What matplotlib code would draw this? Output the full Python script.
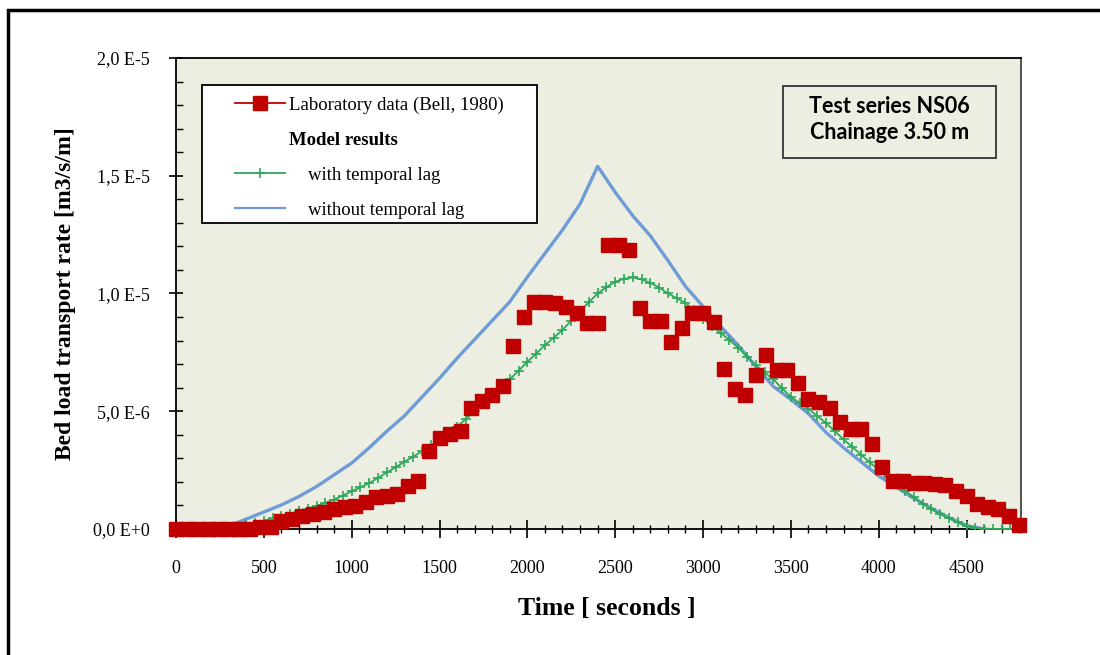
import matplotlib
matplotlib.use("Agg")
import matplotlib.pyplot as plt
from matplotlib.lines import Line2D
from matplotlib.patches import Rectangle
from matplotlib.ticker import FixedLocator, MultipleLocator

# laboratory data (Bell, 1980), bed load in 1e-6 m3/s/m
lab_time = [0, 60, 120, 180, 240, 300, 360, 420, 480, 540, 600, 660, 720, 780, 840, 900,
            960, 1020, 1080, 1140, 1200, 1260, 1320, 1380, 1440, 1500, 1560, 1620, 1680,
            1740, 1800, 1860, 1920, 1980, 2040, 2100, 2160, 2220, 2280, 2340, 2400, 2460,
            2520, 2580, 2640, 2700, 2760, 2820, 2880, 2940, 3000, 3060, 3120, 3180, 3240,
            3300, 3360, 3420, 3480, 3540, 3600, 3660, 3720, 3780, 3840, 3900, 3960, 4020,
            4080, 4140, 4200, 4260, 4320, 4380, 4440, 4500, 4560, 4620, 4680, 4740, 4800]
lab_rate = [0, 0, 0, 0, 0, 0, 0, 0, 0.08, 0.1, 0.35, 0.42, 0.56, 0.63, 0.7, 0.85,
            0.92, 0.99, 1.13, 1.34, 1.41, 1.48, 1.83, 2.04, 3.31, 3.88, 4.02, 4.16, 5.15,
            5.43, 5.71, 6.06, 7.75, 9.02, 9.65, 9.65, 9.58, 9.44, 9.16, 8.74, 8.74, 12.05,
            12.05, 11.84, 9.37, 8.81, 8.81, 7.94, 8.53, 9.16, 9.16, 8.77, 6.8, 5.95, 5.71,
            6.55, 7.37, 6.77, 6.77, 6.2, 5.5, 5.38, 5.15, 4.55, 4.26, 4.26, 3.59, 2.65,
            2.04, 2.04, 1.97, 1.94, 1.9, 1.86, 1.62, 1.41, 1.06, 0.92, 0.85, 0.54, 0.17]

# model with temporal lag
lag_time = [0, 50, 100, 150, 200, 250, 300, 350, 400, 450, 500, 550, 600, 650, 700, 750,
            800, 850, 900, 950, 1000, 1050, 1100, 1150, 1200, 1250, 1300, 1350, 1400, 1450,
            1500, 1550, 1600, 1650, 1700, 1750, 1800, 1850, 1900, 1950, 2000, 2050, 2100,
            2150, 2200, 2250, 2300, 2350, 2400, 2450, 2500, 2550, 2600, 2650, 2700, 2750,
            2800, 2850, 2900, 2950, 3000, 3050, 3100, 3150, 3200, 3250, 3300, 3350, 3400,
            3450, 3500, 3550, 3600, 3650, 3700, 3750, 3800, 3850, 3900, 3950, 4000, 4050,
            4100, 4150, 4200, 4250, 4300, 4350, 4400, 4450, 4500, 4550, 4600, 4650, 4700,
            4750, 4800]
lag_rate = [0, 0, 0, 0, 0, 0, 0.02, 0.08, 0.15, 0.25, 0.35, 0.45, 0.55, 0.65, 0.75, 0.86,
            0.98, 1.11, 1.25, 1.42, 1.6, 1.77, 1.95, 2.17, 2.4, 2.62, 2.85, 3.07, 3.3, 3.55,
            3.8, 4.07, 4.35, 4.67, 5.0, 5.32, 5.65, 6.0, 6.35, 6.72, 7.1, 7.45, 7.8,
            8.12, 8.45, 8.85, 9.25, 9.63, 10.0, 10.27, 10.5, 10.62, 10.68, 10.6, 10.45, 10.25,
            10.0, 9.8, 9.6, 9.28, 8.92, 8.62, 8.33, 8.02, 7.7, 7.32, 6.95, 6.65, 6.35,
            5.98, 5.6, 5.35, 5.1, 4.8, 4.5, 4.15, 3.8, 3.48, 3.15, 2.83, 2.5, 2.2,
            1.9, 1.62, 1.35, 1.08, 0.83, 0.63, 0.45, 0.28, 0.13, 0.06, 0.02, 0, 0,
            0, 0]

# model without temporal lag
nolag_time = [0, 100, 200, 300, 400, 500, 600, 700, 800, 900, 1000, 1100, 1200, 1300,
              1400, 1500, 1600, 1700, 1800, 1900, 2000, 2100, 2200, 2300, 2400, 2500, 2600,
              2700, 2800, 2900, 3000, 3100, 3200, 3300, 3400, 3500, 3600, 3700, 3800, 3900,
              4000, 4100, 4200, 4300, 4400, 4500, 4600]
nolag_rate = [0, 0, 0, 0.12, 0.42, 0.72, 1.02, 1.38, 1.8, 2.3, 2.8, 3.45, 4.15, 4.8,
              5.6, 6.4, 7.25, 8.05, 8.85, 9.65, 10.7, 11.7, 12.7, 13.8, 15.4, 14.3, 13.3,
              12.45, 11.4, 10.3, 9.45, 8.6, 7.8, 6.9, 6.05, 5.5, 4.9, 4.1, 3.45, 2.85,
              2.25, 1.78, 1.3, 0.88, 0.48, 0.14, 0]

y_ticks = [0, 5e-6, 1e-5, 1.5e-5, 2e-5]
y_ticklabels = ["0,0 E+0", "5,0 E-6", "1,0 E-5", "1,5 E-5", "2,0 E-5"]
x_ticks = [0, 500, 1000, 1500, 2000, 2500, 3000, 3500, 4000, 4500]

legend_labels = ["Laboratory data (Bell, 1980)", "Model results",
                 "    with temporal lag", "    without temporal lag"]

red = '#C00000'
green = '#2EA85A'
blue = '#6F9BD6'
serif = 'Liberation Serif'

fig = plt.figure(figsize=(11, 6.55), dpi=100)
ax = fig.add_axes([0.16, 0.1924, 0.7682, 0.7191])
ax.set_facecolor('#ECEEE1')

ax.plot(nolag_time, [v * 1e-6 for v in nolag_rate], color=blue, lw=2.4, zorder=3)
ax.plot(lag_time, [v * 1e-6 for v in lag_rate], color=green, lw=1.3, marker='+',
        markersize=7, markeredgewidth=1.2, zorder=4)
ax.plot(lab_time, [v * 1e-6 for v in lab_rate], color=red, ls='none', marker='s',
        markersize=9.5, zorder=5, clip_on=False)

ax.set_xlim(0, 4810)
ax.set_ylim(0, 2e-5)
ax.yaxis.set_major_locator(FixedLocator(y_ticks))
ax.set_yticklabels(y_ticklabels)
ax.yaxis.set_minor_locator(MultipleLocator(1e-6))
ax.xaxis.set_major_locator(FixedLocator(x_ticks))
ax.xaxis.set_minor_locator(MultipleLocator(100))

ax.tick_params(axis='y', which='major', direction='inout', length=10, width=1.2,
               pad=14, labelsize=13)
ax.tick_params(axis='y', which='minor', direction='in', length=5, width=1)
ax.tick_params(axis='x', which='major', direction='inout', length=13, width=1.2,
               pad=16, labelsize=13)
ax.tick_params(axis='x', which='minor', direction='inout', length=6, width=1)
for lab in ax.get_xticklabels() + ax.get_yticklabels():
    lab.set_family(serif)

for side in ['left', 'bottom', 'top']:
    ax.spines[side].set_color('black')
    ax.spines[side].set_linewidth(1.3)
ax.spines['right'].set_color('#444444')
ax.spines['right'].set_linewidth(1.3)

ax.set_xlabel('Time [ seconds ]', family=serif, fontweight='bold', fontsize=18.5, labelpad=14)
ax.xaxis.label.set_x(0.51)
ax.set_ylabel('Bed load transport rate [m3/s/m]', family=serif, fontweight='bold',
              fontsize=17, labelpad=12)

# legend: frame drawn separately so the padding matches
ax.add_patch(Rectangle((0.0308, 0.6497), 0.3964, 0.293, transform=ax.transAxes,
                       facecolor='white', edgecolor='black', lw=1.3, zorder=6))
handles = [Line2D([], [], color=red, marker='s', markersize=9.5, lw=1.3),
           Line2D([], [], color='none'),
           Line2D([], [], color=green, marker='+', markersize=7, markeredgewidth=1.2, lw=1.3),
           Line2D([], [], color=blue, lw=1.6)]
leg = ax.legend(handles, legend_labels, loc='upper left', bbox_to_anchor=(0.0698, 0.918),
                prop={'family': serif, 'size': 13.5}, frameon=False, borderpad=0,
                labelspacing=0.95, handlelength=2.67, handletextpad=0.2, borderaxespad=0)
leg.set_zorder(7)
leg.get_texts()[1].set_fontweight('bold')

# text box in the upper right
ax.add_patch(Rectangle((0.718, 0.788), 0.252, 0.153, transform=ax.transAxes,
                       facecolor='none', edgecolor='#333333', lw=1.3, zorder=6))
ax.text(0.844, 0.869, 'Test series NS06\nChainage 3.50 m', transform=ax.transAxes,
        ha='center', va='center', family='Lato', fontweight='bold', fontsize=15.5,
        linespacing=1.32, zorder=7)

# outer frame (left and top edges visible, the rest runs off the picture)
fig.add_artist(Rectangle((8 / 1100, -0.05), 1.1, 1.05 - 10 / 655,
                         transform=fig.transFigure, fill=False, edgecolor='black', lw=2.5))

fig.savefig('out.png', dpi=100)
